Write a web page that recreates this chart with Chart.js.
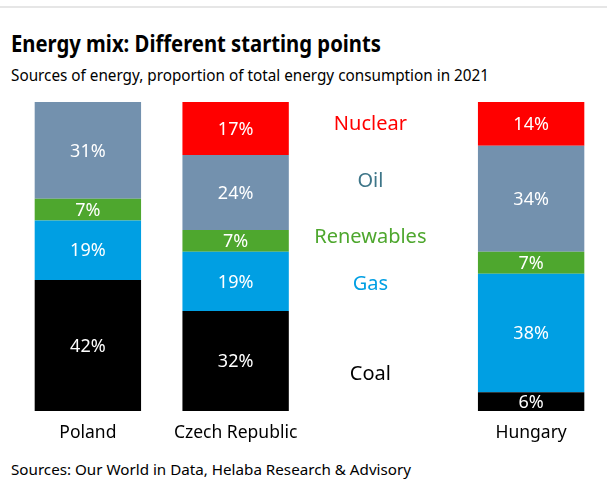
<!DOCTYPE html>
<html>
<head>
<meta charset="utf-8">
<script src="https://cdn.jsdelivr.net/npm/chart.js@4"></script>
<style>
  html, body { margin: 0; padding: 0; background: #fff; }
  body { width: 607px; height: 493px; position: relative; overflow: hidden; font-family: "Noto Sans", sans-serif; color: #000; }
  .topline { position: absolute; left: 0; top: 6px; width: 607px; height: 2px; background: #e6e6e6; }
  .title { position: absolute; left: 11px; top: 27px; font-size: 23px; font-weight: bold; white-space: nowrap; }
  .subtitle { position: absolute; left: 11px; top: 64px; font-size: 16px; white-space: nowrap; }
  .source { position: absolute; left: 11px; top: 459px; font-size: 14.5px; white-space: nowrap; }
  #chart { position: absolute; left: 0; top: 0; }
</style>
</head>
<body>
<div class="topline"></div>
<div class="title" id="title">Energy mix: Different starting points</div>
<div class="subtitle" id="subtitle">Sources of energy, proportion of total energy consumption in 2021</div>
<div class="source" id="source">Sources: Our World in Data, Helaba Research &amp; Advisory</div>
<canvas id="chart" width="607" height="493"></canvas>
<script>
// categories (third slot is empty, it carries the legend text)
const countries = ["Poland", "Czech Republic", "", "Hungary"];

// shares in % (null = none)
const coal       = [42, 32, null, 6];
const gas        = [19, 19, null, 38];
const renewables = [7, 7, null, 7];
const oil        = [31, 24, null, 34];
const nuclear    = [null, 17, null, 14];

const sourceNames  = ["Coal", "Gas", "Renewables", "Oil", "Nuclear"];
const sourceColors = ["#000000", "#009fe3", "#4ea72e", "#7391ae", "#ff0000"];
const labelColors  = ["#000000", "#009fe3", "#4ea72e", "#3d7588", "#ff0000"];

// fit a text line to the width it has in the reference
function fitWidth(id, w) {
  const el = document.getElementById(id);
  const r = w / el.getBoundingClientRect().width;
  el.style.transformOrigin = "0 0";
  el.style.transform = "scaleX(" + r + ")";
}
fitWidth("title", 370);
fitWidth("subtitle", 478);
fitWidth("source", 400);

/* ================= VALUE LABELS ================= */
const valueLabels = {
  id: "valueLabels",
  afterDatasetsDraw(chart) {
    const ctx = chart.ctx;
    ctx.save();
    ctx.fillStyle = "#ffffff";
    ctx.font = "18px 'Noto Sans'";
    ctx.textAlign = "center";
    ctx.textBaseline = "middle";
    chart.data.datasets.forEach((ds, i) => {
      chart.getDatasetMeta(i).data.forEach((bar, j) => {
        const v = ds.data[j];
        if (v == null) return;
        const p = bar.getCenterPoint();
        ctx.fillText(v + "%", p.x, p.y + 1);
      });
    });
    ctx.restore();
  }
};

/* ================= LEGEND TEXT IN THE EMPTY SLOT ================= */
const legendText = {
  id: "legendText",
  afterDatasetsDraw(chart, args, opts) {
    const ctx = chart.ctx;
    const xs = chart.scales.x, ys = chart.scales.y;
    const x = xs.getPixelForValue(2) - 13;
    ctx.save();
    ctx.font = "20px 'Noto Sans'";
    ctx.textAlign = "center";
    ctx.textBaseline = "middle";
    opts.at.forEach((v, i) => {
      ctx.fillStyle = labelColors[i];
      ctx.fillText(sourceNames[i], x, ys.getPixelForValue(v));
    });
    ctx.restore();
  }
};

const series = [coal, gas, renewables, oil, nuclear];

new Chart(document.getElementById("chart"), {
  type: "bar",
  data: {
    labels: countries,
    datasets: series.map((d, i) => ({
      label: sourceNames[i],
      data: d,
      backgroundColor: sourceColors[i],
      borderWidth: 0,
      barPercentage: 0.72,
      categoryPercentage: 1
    }))
  },
  options: {
    responsive: false,
    animation: false,
    devicePixelRatio: 1,
    layout: { padding: { left: 14, right: 2, top: 102, bottom: 37 } },
    plugins: {
      legend: { display: false },
      tooltip: { enabled: false },
      legendText: { at: [11.9, 40.6, 55.5, 73.5, 91.9] }
    },
    scales: {
      x: {
        stacked: true,
        grid: { display: false, drawTicks: false },
        border: { display: false },
        ticks: { color: "#000", font: { size: 17.5, family: "Noto Sans" }, padding: 12 }
      },
      y: {
        stacked: true,
        display: false,
        min: 0,
        max: 99
      }
    }
  },
  plugins: [valueLabels, legendText]
});
</script>
</body>
</html>
